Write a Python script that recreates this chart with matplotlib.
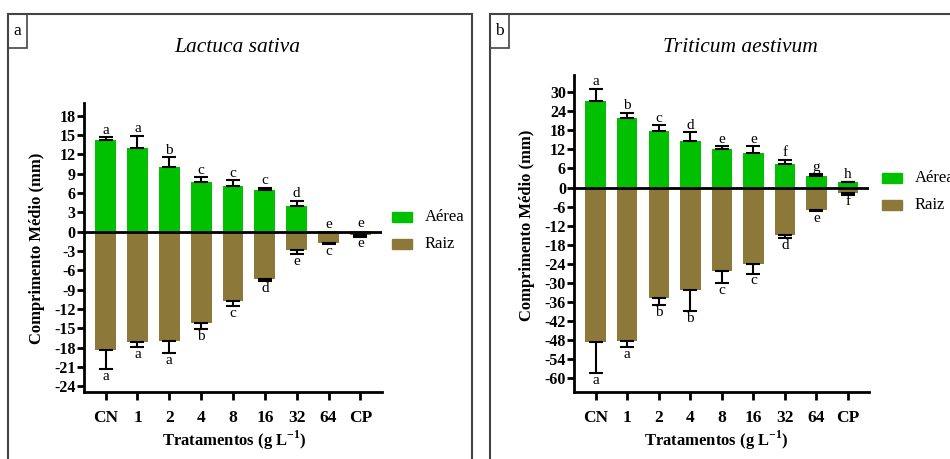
import matplotlib
matplotlib.use("Agg")
import matplotlib.pyplot as plt
from matplotlib.patches import Rectangle
import numpy as np

plt.rcParams['font.family'] = ['Liberation Serif', 'DejaVu Serif']
plt.rcParams['mathtext.fontset'] = 'custom'
plt.rcParams['mathtext.rm'] = 'Liberation Serif'
plt.rcParams['mathtext.bf'] = 'Liberation Serif:bold'
plt.rcParams['axes.unicode_minus'] = False

categories = ["CN", "1", "2", "4", "8", "16", "32", "64", "CP"]

# Panel a: Lactuca sativa
a_aerea = [14.2, 12.9, 10.0, 7.7, 7.0, 6.45, 4.0, 0.1, 0.15]
a_aerea_err = [0.5, 2.0, 1.5, 0.7, 1.0, 0.35, 0.8, 0.0, 0.0]
a_raiz = [-18.4, -17.2, -17.0, -14.2, -10.7, -7.3, -2.9, -1.7, -0.6]
a_raiz_err = [3.0, 0.7, 1.9, 0.9, 0.9, 0.4, 0.6, 0.25, 0.2]
a_aerea_let = ["a", "a", "b", "c", "c", "c", "d", "e", "e"]
a_raiz_let = ["a", "a", "a", "b", "c", "d", "e", "c", "e"]
a_yticks = list(range(-24, 19, 3))

# Panel b: Triticum aestivum
b_aerea = [27.3, 21.8, 17.7, 14.5, 12.2, 10.8, 7.5, 3.6, 1.6]
b_aerea_err = [3.8, 1.8, 2.0, 2.9, 0.9, 2.3, 1.3, 0.7, 0.3]
b_raiz = [-48.5, -48.1, -34.8, -32.2, -26.1, -24.0, -14.8, -7.0, -1.6]
b_raiz_err = [9.9, 2.0, 2.1, 6.7, 4.0, 3.1, 1.2, 0.4, 0.6]
b_aerea_let = ["a", "b", "c", "d", "e", "e", "f", "g", "h"]
b_raiz_let = ["a", "a", "b", "b", "c", "c", "d", "e", "f"]
b_yticks = list(range(-60, 31, 6))

GREEN = "#00C000"
BROWN = "#8C7838"

W, H = 950, 459
fig = plt.figure(figsize=(W / 100, H / 100), dpi=100)


def fx(px):
    return px / W


def fy(py):
    return 1 - py / H


# panel frames
for (x0, x1, lab) in [(8, 471.5, "a"), (490, 960, "b")]:
    fig.patches.append(Rectangle((fx(x0), fy(470)), fx(x1 - x0), (470 - 13.5) / H,
                                 transform=fig.transFigure, fill=False,
                                 edgecolor="#444444", lw=1.5, zorder=0))
    fig.patches.append(Rectangle((fx(x0), fy(47.5)), fx(18.5), (47.5 - 13.5) / H,
                                 transform=fig.transFigure, fill=False,
                                 edgecolor="#444444", lw=1.2, zorder=0))
    fig.text(fx(x0 + 9.5), fy(31), lab, ha="center", va="center", fontsize=12.5)


def panel(rect, aerea, aerr, raiz, rerr, alet, rlet, yticks, ylim, title, title_x,
          ylab_x, ylab_y, xlab_x, leg_x, leg_y, letoff):
    ax = fig.add_axes(rect)
    x = np.arange(len(categories))
    bw = 0.65
    b1 = ax.bar(x, aerea, width=bw, color=GREEN, label="Aérea", zorder=2)
    b2 = ax.bar(x, raiz, width=bw, color=BROWN, label="Raiz", zorder=2)
    for i in range(len(x)):
        if aerr[i] > 0:
            ax.errorbar([x[i]], [aerea[i]], yerr=[[0], [aerr[i]]], fmt="none",
                        ecolor="black", elinewidth=1.5, capsize=5, capthick=1.5,
                        zorder=3)
        if rerr[i] > 0:
            ax.errorbar([x[i]], [raiz[i]], yerr=[[rerr[i]], [0]], fmt="none",
                        ecolor="black", elinewidth=1.5, capsize=5, capthick=1.5,
                        zorder=3)
        ax.text(x[i], aerea[i] + aerr[i] + letoff * 0.05, alet[i], ha="center",
                va="bottom", fontsize=11)
        ax.text(x[i], raiz[i] - rerr[i] - letoff * 0.1, rlet[i], ha="center",
                va="top", fontsize=11)
    ax.axhline(0, color="black", lw=2, zorder=4)
    ax.set_xlim(-0.68, 8.68)
    ax.set_ylim(*ylim)
    ax.set_yticks(yticks)
    ax.set_xticks(x)
    ax.set_xticklabels(categories)
    for s in ["top", "right"]:
        ax.spines[s].set_visible(False)
    for s in ["left", "bottom"]:
        ax.spines[s].set_linewidth(2)
    ax.tick_params(axis="y", length=5, width=2, labelsize=11.5, pad=1)
    ax.tick_params(axis="x", length=6, width=2, labelsize=12.5, pad=7)
    for t in ax.get_xticklabels() + ax.get_yticklabels():
        t.set_fontweight("bold")
    fig.text(fx(title_x), fy(47), title, ha="center", va="center", fontsize=15.5,
             style="italic")
    fig.text(fx(ylab_x), fy(ylab_y), "Comprimento Médio (mm)", rotation=90,
             ha="center", va="center", fontsize=12, fontweight="bold")
    fig.text(fx(xlab_x), fy(440), r"Tratamentos (g L$^{\mathbf{-1}}$)", ha="center",
             va="center", fontsize=12, fontweight="bold")
    # legend
    fig.patches.append(Rectangle((fx(leg_x), fy(leg_y + 5)), fx(20), 10 / H,
                                 transform=fig.transFigure, color=GREEN))
    fig.patches.append(Rectangle((fx(leg_x), fy(leg_y + 32)), fx(20), 10 / H,
                                 transform=fig.transFigure, color=BROWN))
    fig.text(fx(leg_x + 33), fy(leg_y), b1.get_label(), ha="left", va="center",
             fontsize=12)
    fig.text(fx(leg_x + 33), fy(leg_y + 27), b2.get_label(), ha="left", va="center",
             fontsize=12)
    return ax


panel([fx(84), fy(392), fx(382 - 84), (392 - 102.7) / H],
      a_aerea, a_aerea_err, a_raiz, a_raiz_err, a_aerea_let, a_raiz_let,
      a_yticks, (-24.9, 20.0), "Lactuca sativa", 237, 37, 248, 234,
      392, 217, 1.0)

panel([fx(574.3), fy(391.7), fx(869.3 - 574.3), (391.7 - 75) / H],
      b_aerea, b_aerea_err, b_raiz, b_raiz_err, b_aerea_let, b_raiz_let,
      b_yticks, (-64.2, 35.4), "Triticum aestivum", 740, 527, 225, 716,
      882, 178, 2.0)

fig.savefig("out.png", dpi=100)
